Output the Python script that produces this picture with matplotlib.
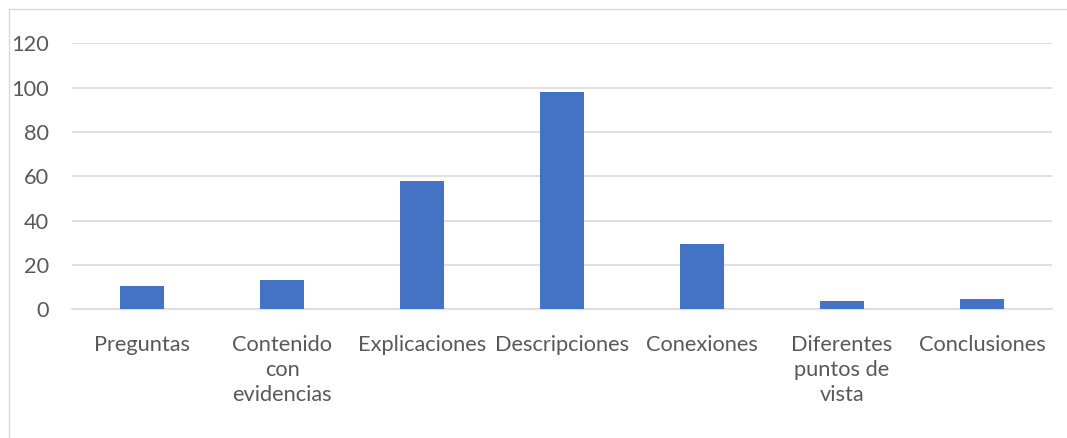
import matplotlib.pyplot as plt
from matplotlib.lines import Line2D

categorias = ['Preguntas', 'Contenido\ncon\nevidencias', 'Explicaciones', 'Descripciones',
              'Conexiones', 'Diferentes\npuntos de\nvista', 'Conclusiones']
valores = [10.5, 13, 58, 98, 29.5, 3.5, 4.5]
y_ticks = [0, 20, 40, 60, 80, 100, 120]

plt.rcParams['font.family'] = ['Lato', 'DejaVu Sans']

fig = plt.figure(figsize=(10.67, 4.38), dpi=100)
ax = fig.add_axes([0.0675, 0.2945, 0.9185, 0.6062])

x = range(len(categorias))
ax.bar(x, valores, width=0.315, color='#4472C4', zorder=3)

ax.set_xlim(-0.5, len(categorias) - 0.5)
ax.set_ylim(0, 120)
ax.set_yticks(y_ticks)
ax.set_xticks(list(x))
ax.set_xticklabels(categorias, linespacing=1.32, va='top')
ax.grid(axis='y', color='#d9d9d9', linewidth=1.2, zorder=0)
ax.tick_params(axis='both', length=0, labelsize=15.7, colors='#595959')
ax.tick_params(axis='y', pad=16.5)
ax.tick_params(axis='x', pad=18.5)

for s in ['top', 'right', 'left']:
    ax.spines[s].set_visible(False)
ax.spines['bottom'].set_color('#d9d9d9')
ax.spines['bottom'].set_linewidth(1.2)

# marco del gráfico
fig.add_artist(Line2D([9 / 1067, 1], [1 - 9 / 438, 1 - 9 / 438], color='#d9d9d9', lw=1))
fig.add_artist(Line2D([9 / 1067, 9 / 1067], [0, 1 - 9 / 438], color='#d9d9d9', lw=1))

fig.savefig('out.png', dpi=100)
